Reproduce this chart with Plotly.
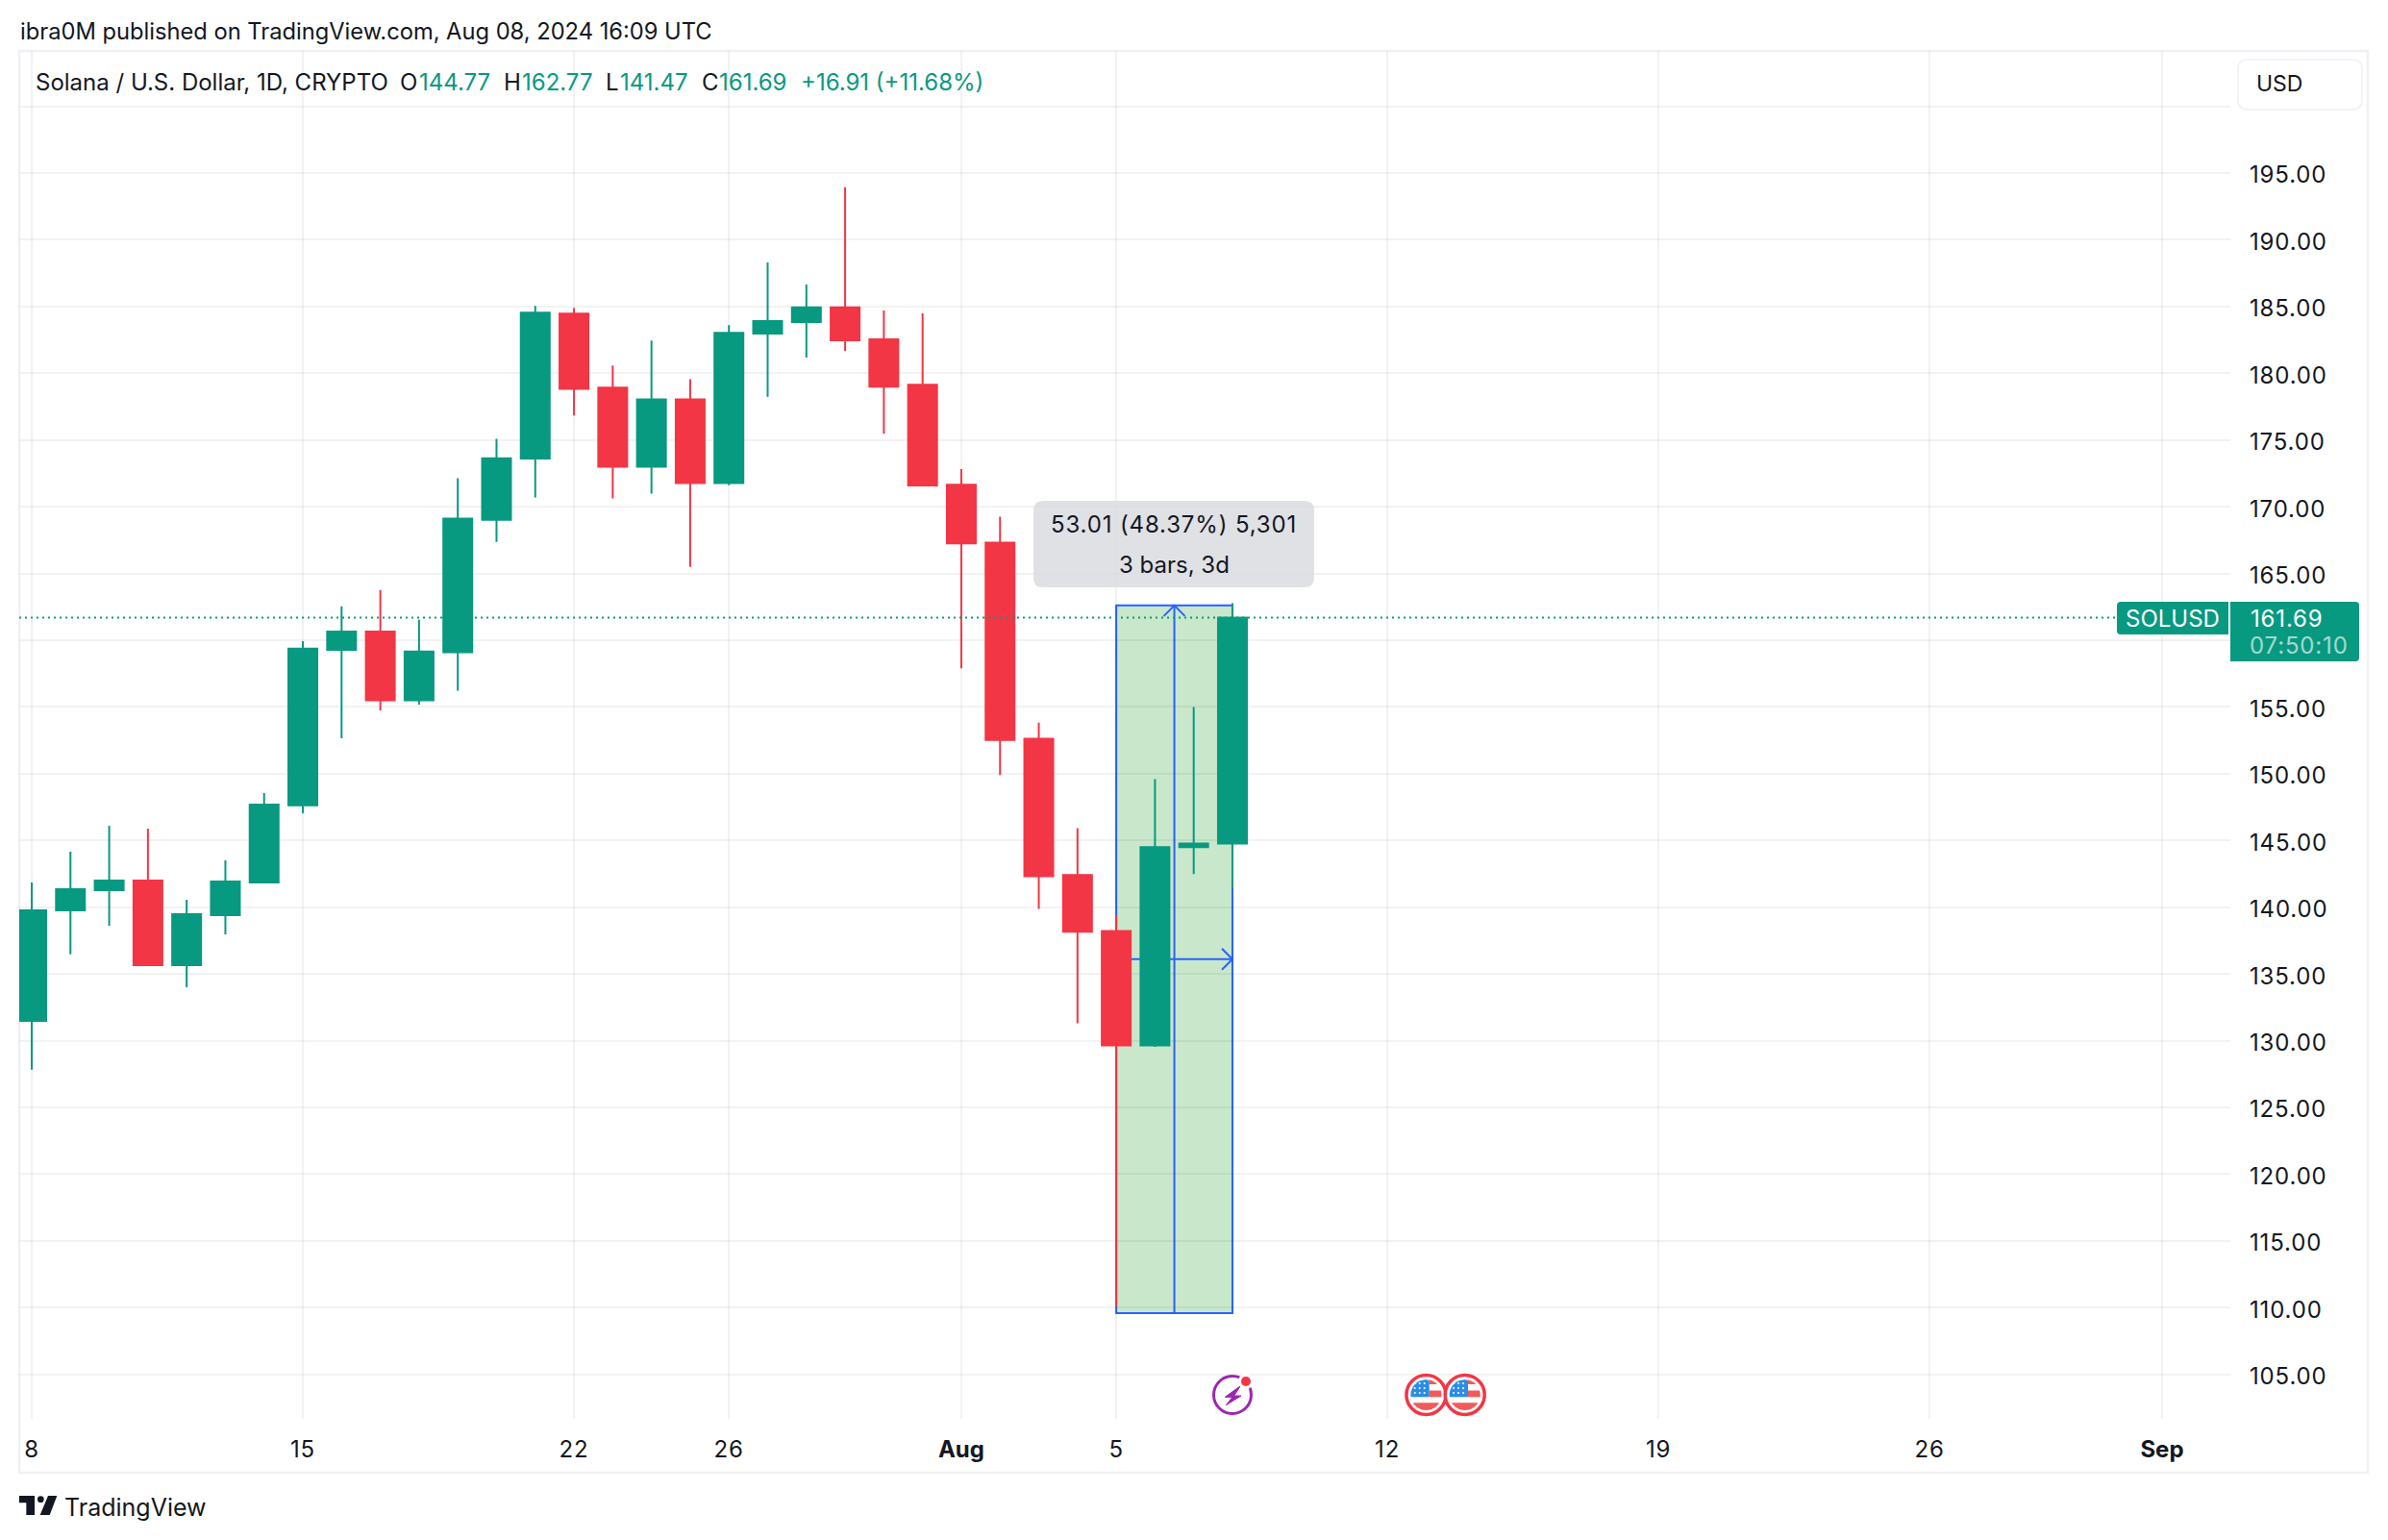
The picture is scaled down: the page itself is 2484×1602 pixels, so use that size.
import math
import pandas as pd
import plotly.graph_objects as go

# ---------- data ----------
dates = pd.date_range("2024-07-08", "2024-08-08", freq="D").strftime("%Y-%m-%d").tolist()
opens = [131.48, 139.76, 141.27, 142.00, 135.66, 139.40, 141.85, 147.63, 159.28, 160.64, 155.49, 159.10,
         169.02, 173.61, 184.46, 178.92, 172.99, 178.04, 171.78, 182.97, 183.83, 184.93, 182.54, 179.14,
         171.65, 167.30, 152.62, 142.40, 138.21, 129.64, 144.49, 144.77]
highs = [141.85, 144.15, 146.10, 145.88, 140.55, 143.51, 148.55, 159.92, 162.53, 163.76, 161.52, 172.14,
         175.08, 185.05, 184.90, 180.57, 182.45, 179.56, 183.61, 188.30, 186.64, 193.93, 184.70, 184.48,
         172.82, 169.26, 153.83, 145.92, 139.34, 149.59, 154.99, 162.77]
lows = [127.83, 136.47, 138.61, 135.60, 134.00, 137.96, 141.80, 147.04, 152.65, 154.74, 155.18, 156.21,
        167.37, 170.70, 176.83, 170.62, 170.98, 165.49, 171.62, 178.23, 181.18, 181.67, 175.47, 171.55,
        157.90, 149.89, 139.86, 131.30, 110.07, 129.53, 142.48, 141.47]
closes = [139.76, 141.35, 142.00, 135.66, 139.47, 141.92, 147.68, 159.36, 160.64, 155.49, 159.15, 169.10,
          173.63, 184.54, 178.84, 172.99, 178.04, 171.78, 183.02, 183.91, 184.93, 182.47, 179.00, 171.60,
          167.26, 152.53, 142.31, 138.15, 129.64, 144.49, 144.77, 161.69]

x_tick_dates = ["2024-07-08", "2024-07-15", "2024-07-22", "2024-07-26", "2024-08-01", "2024-08-05",
                "2024-08-12", "2024-08-19", "2024-08-26", "2024-09-01"]
x_tick_labels = ["8", "15", "22", "26", "Aug", "5", "12", "19", "26", "Sep"]
x_tick_bold = ["Aug", "Sep"]
y_ticks = list(range(105, 205, 5))
y_hidden_labels = [160, 200]  # their labels sit behind the price tag and the currency box

last_price = 161.69
measure_start, measure_end = "2024-08-05", "2024-08-08"
measure_low, measure_high = 109.59, 162.60
measure_mid_date = "2024-08-06 12:00"
measure_mid_price = 136.10
event_date = "2024-08-08"
flag_dates = ["2024-08-13", "2024-08-14"]

legend_parts = [("Solana / U.S. Dollar, 1D, CRYPTO", 36, "k"), ("O", 415, "k"), ("144.77", 435, "g"),
                ("H", 523, "k"), ("162.77", 542, "g"), ("L", 629, "k"), ("141.47", 644, "g"),
                ("C", 729, "k"), ("161.69", 747, "g"), ("+16.91 (+11.68%)", 832, "g")]

# ---------- style ----------
W, H = 2484, 1602
FONT = "Inter"
INK = "#131722"
GREEN = "#089981"
RED = "#F23645"
BLUE = "#2962FF"
GRID = "rgba(0,0,0,0.05)"
FRAME = "#F0F0F6"
FS = 24


def spaced(t):
    return f'<span style="letter-spacing:0.85px">{t}</span>'


def px(x):
    return x / W


def py(y):
    return 1 - y / H


def paper_path(pts):
    return "M " + " L ".join(f"{px(x):.6f} {py(y):.6f}" for x, y in pts) + " Z"


def round_rect(x0, y0, x1, y1, tl, tr, br, bl):
    c = lambda x, y: f"{px(x):.6f} {py(y):.6f}"
    return (f"M {c(x0 + tl, y0)} L {c(x1 - tr, y0)} Q {c(x1, y0)} {c(x1, y0 + tr)} "
            f"L {c(x1, y1 - br)} Q {c(x1, y1)} {c(x1 - br, y1)} "
            f"L {c(x0 + bl, y1)} Q {c(x0, y1)} {c(x0, y1 - bl)} "
            f"L {c(x0, y0 + tl)} Q {c(x0, y0)} {c(x0 + tl, y0)} Z")


def band(r, yt, yb, xl=-1e9, xr=1e9):
    steps = 14
    ys = [yt + (yb - yt) * i / steps for i in range(steps + 1)]
    right = [(min(xr, math.sqrt(max(r * r - y * y, 0))), y) for y in ys]
    left = [(max(xl, -math.sqrt(max(r * r - y * y, 0))), y) for y in reversed(ys)]
    return "M " + " L ".join(f"{x:.2f} {y:.2f}" for x, y in right + left) + " Z"


# calibration of the plot box against the axis values
plot_l, plot_r, plot_t, plot_b = 20, 2320, 53, 1476
px_per_day = 40.29
px_per_unit = 13.885
first_day = pd.Timestamp(dates[0])
x_range = [first_day + pd.Timedelta(days=(plot_l - 33) / px_per_day),
           first_day + pd.Timedelta(days=(plot_r - 33) / px_per_day)]
y_range = [195 - (plot_b - 180) / px_per_unit, 195 + (180 - plot_t) / px_per_unit]

fig = go.Figure(go.Candlestick(
    x=dates, open=opens, high=highs, low=lows, close=closes,
    increasing=dict(line=dict(color=GREEN, width=2), fillcolor=GREEN),
    decreasing=dict(line=dict(color=RED, width=2), fillcolor=RED),
    hoverinfo="skip", showlegend=False,
))

shapes = []


def add(**k):
    shapes.append(k)


# frame
add(type="rect", xref="paper", yref="paper", x0=px(20), x1=px(2463), y0=py(53), y1=py(1532),
    line=dict(color=FRAME, width=2.5), fillcolor="rgba(0,0,0,0)", layer="below")

# measure tool, below the candles
add(type="rect", xref="x", yref="y", x0=measure_start, x1=measure_end, y0=measure_low, y1=measure_high,
    line=dict(color=BLUE, width=2), fillcolor="rgba(76,175,80,0.3)", layer="below")
add(type="line", xref="x", yref="y", x0=measure_mid_date, x1=measure_mid_date, y0=measure_low, y1=measure_high,
    line=dict(color=BLUE, width=2), layer="below")
add(type="line", xref="x", yref="y", x0=measure_start, x1=measure_end, y0=measure_mid_price, y1=measure_mid_price,
    line=dict(color=BLUE, width=2), layer="below")
add(type="path", xref="x", yref="y", xsizemode="pixel", ysizemode="pixel",
    xanchor=measure_mid_date, yanchor=measure_high, path="M -11 -11 L 0 0 L 11 -11",
    line=dict(color=BLUE, width=2), fillcolor="rgba(0,0,0,0)", layer="below")
add(type="path", xref="x", yref="y", xsizemode="pixel", ysizemode="pixel",
    xanchor=measure_end, yanchor=measure_mid_price, path="M -11 11 L 0 0 L -11 -11",
    line=dict(color=BLUE, width=2), fillcolor="rgba(0,0,0,0)", layer="below")

# last price line
add(type="line", xref="paper", yref="y", x0=px(20), x1=px(2200), y0=last_price, y1=last_price,
    line=dict(color=GREEN, width=2, dash="2px,4px"), layer="above")

# tooltip
add(type="path", xref="paper", yref="paper", path=round_rect(1075, 521, 1367, 611, 10, 10, 10, 10),
    fillcolor="rgba(216,218,222,0.8)", line=dict(width=0), layer="above")

# price labels
add(type="path", xref="paper", yref="paper", path=round_rect(2202, 626, 2318, 660, 4, 0, 0, 4),
    fillcolor=GREEN, line=dict(width=0), layer="above")
add(type="path", xref="paper", yref="paper", path=round_rect(2320, 626, 2454, 688, 0, 4, 4, 0),
    fillcolor=GREEN, line=dict(width=0), layer="above")
add(type="path", xref="paper", yref="paper", path=round_rect(2328, 62, 2457, 114, 10, 10, 10, 10),
    fillcolor="white", line=dict(color=FRAME, width=1.5), layer="above")

# TradingView logo
tz = lambda x, y: (x / 3, 1480 + y / 3)
add(type="path", xref="paper", yref="paper",
    path=paper_path([tz(60, 228), tz(108, 228), tz(108, 288), tz(82, 288), tz(82, 250), tz(60, 250)]),
    fillcolor=INK, line=dict(width=0), layer="above")
add(type="path", xref="paper", yref="paper",
    path=paper_path([tz(150, 228), tz(178, 228), tz(155, 288), tz(125, 288)]),
    fillcolor=INK, line=dict(width=0), layer="above")
add(type="circle", xref="paper", yref="paper", x0=px(117 / 3), x1=px(137 / 3), y0=py(1480 + 229 / 3),
    y1=py(1480 + 249 / 3), fillcolor=INK, line=dict(width=0), layer="above")

# event icons
icon_y = py(1451)


def icon(date, **k):
    add(xref="x", yref="paper", xsizemode="pixel", ysizemode="pixel", xanchor=date, yanchor=icon_y,
        layer="above", **k)


icon(event_date, type="circle", x0=-19.5, x1=19.5, y0=-19.5, y1=19.5, fillcolor="white",
     line=dict(color="#9C27B0", width=3))
icon(event_date, type="path",
     path="M 8.3 9.3 L -7.7 -2.3 L 0 -2.3 L -6.7 -10.7 L 9 -1 L 1.7 -1 Z",
     fillcolor="#9C27B0", line=dict(color="#9C27B0", width=1))
icon(event_date, type="circle", x0=6, x1=22, y0=6, y1=22, fillcolor="white", line=dict(width=0))
icon(event_date, type="circle", x0=9, x1=19, y0=9, y1=19, fillcolor=RED, line=dict(width=0))

FLAG_RED = "#F15A5A"
FLAG_BLUE = "#2B8CE6"
for d in flag_dates:
    icon(d, type="circle", x0=-20.5, x1=20.5, y0=-20.5, y1=20.5, fillcolor="white", line=dict(color=RED, width=3.5))
    icon(d, type="path", path=band(16, 16, 11, xl=3.3), fillcolor=FLAG_RED, line=dict(width=0))
    icon(d, type="path", path=band(16, 4.4, -2.3, xl=3.3), fillcolor=FLAG_RED, line=dict(width=0))
    icon(d, type="path", path=band(16, -8.3, -16), fillcolor=FLAG_RED, line=dict(width=0))
    icon(d, type="path", path=band(16, 16, -2.3, xr=3.3), fillcolor=FLAG_BLUE, line=dict(width=0))
    stars = ""
    for sx in (-11.7, -6.7, -1.7):
        for sy in (12, 7, 2):
            stars += f"M {sx - 1.3} {sy} L {sx} {sy + 1.3} L {sx + 1.3} {sy} L {sx} {sy - 1.3} Z "
    icon(d, type="path", path=stars, fillcolor="white", line=dict(width=0))

# ---------- texts ----------
annotations = []


def text(t, x, y, color=INK, size=FS, anchor="left"):
    annotations.append(dict(text=t, xref="paper", yref="paper", x=px(x), y=py(y), xanchor=anchor,
                            yanchor="middle", showarrow=False, borderpad=0,
                            font=dict(family=FONT, size=size, color=color)))


text("ibra0M published on TradingView.com, Aug 08, 2024 16:09 UTC", 20, 32, size=23.7)
for label, x, c in legend_parts:
    text(label, x, 85, color=GREEN if c == "g" else INK)
text("USD", 2346, 87, size=23)
text("SOLUSD", 2260, 643, color="white", anchor="center")
text(spaced("161.69"), 2340, 643, color="white")
text(spaced("07:50:10"), 2339, 671, color="rgba(255,255,255,0.65)")
text(spaced("53.01 (48.37%) 5,301"), 1221, 546, anchor="center")
text("3 bars, 3d", 1221, 587, anchor="center")
text("TradingView", 66, 1568, size=25)

x_ticktext = [f"<b>{t}</b>" if t in x_tick_bold else spaced(t) for t in x_tick_labels]
y_ticktext = ["" if v in y_hidden_labels else spaced(f"{v:.2f}") for v in y_ticks]

fig.update_layout(
    width=W, height=H, autosize=False,
    margin=dict(l=0, r=0, t=0, b=0, pad=0),
    paper_bgcolor="white", plot_bgcolor="white",
    font=dict(family=FONT, size=FS, color=INK),
    boxgap=0.255, boxgroupgap=0,
    showlegend=False, hovermode=False,
    shapes=shapes, annotations=annotations,
    xaxis=dict(
        type="date", domain=[px(plot_l), px(plot_r)], range=x_range, rangeslider=dict(visible=False),
        tickmode="array", tickvals=x_tick_dates, ticktext=x_ticktext, ticks="", showline=False,
        showgrid=True, gridcolor=GRID, gridwidth=2, zeroline=False, tickangle=0, automargin=False,
        ticklabelstandoff=15, tickfont=dict(family=FONT, size=FS, color=INK),
    ),
    yaxis=dict(
        side="right", domain=[py(plot_b), py(plot_t)], range=y_range,
        tickmode="array", tickvals=y_ticks, ticktext=y_ticktext, ticks="", showline=False,
        showgrid=True, gridcolor=GRID, gridwidth=2, zeroline=False, automargin=False,
        ticklabelstandoff=19, ticklabelshift=2, tickfont=dict(family=FONT, size=FS, color=INK),
    ),
)

fig.write_html("out.html", config=dict(displayModeBar=False),
               post_script="document.body.style.margin='0';document.documentElement.style.overflow='hidden';")
